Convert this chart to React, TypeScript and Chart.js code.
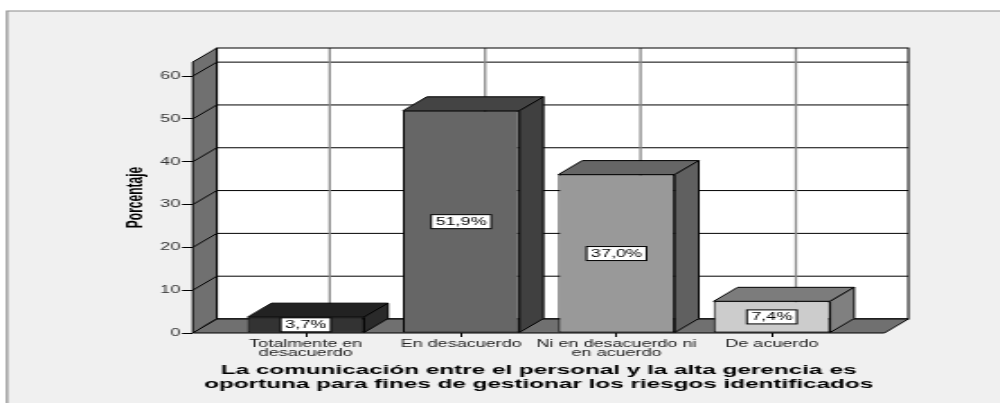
import React, { useEffect, useRef } from 'react';
import { Chart, registerables } from 'chart.js';

Chart.register(...registerables);

// ---- data ----
const categories: string[][] = [
  ['Totalmente en', 'desacuerdo'],
  ['En desacuerdo'],
  ['Ni en desacuerdo ni', 'en acuerdo'],
  ['De acuerdo'],
];
const percentages: number[] = [3.7, 51.9, 37.0, 7.4];
const yTickValues: number[] = [0, 10, 20, 30, 40, 50, 60];
const xTitle: string[] = [
  'La comunicación entre el personal y la alta gerencia es',
  'oportuna para fines de gestionar los riesgos identificados',
];
const yTitle = 'Porcentaje';

// ---- styles ----
const frontColors = ['#333333', '#666666', '#999999', '#cccccc'];
const topColors = ['#222222', '#444444', '#666666', '#7c7c7c'];
const sideColors = ['#2a2a2a', '#404040', '#606060', '#808080'];

const FONT = '"Liberation Sans", Arial, Helvetica, sans-serif';
const W = 556; // internal canvas width, stretched horizontally to 1000px
const H = 403;
const SX = 1000 / W;
const DX = 24 / SX; // depth offset x
const DY = 14; // depth offset y
const FRAME_X = 7 / SX;
const FRAME_Y = 11;
const X_MIN = -0.727;
const X_MAX = 3.724;
const Y_MAX = 63.3;

const fmt = (v: number) => v.toFixed(1).replace('.', ',') + '%';

function poly(ctx: CanvasRenderingContext2D, pts: number[][], fill: string) {
  ctx.beginPath();
  ctx.moveTo(pts[0][0], pts[0][1]);
  for (let i = 1; i < pts.length; i++) ctx.lineTo(pts[i][0], pts[i][1]);
  ctx.closePath();
  ctx.fillStyle = fill;
  ctx.fill();
  ctx.strokeStyle = '#000';
  ctx.lineWidth = 1;
  ctx.stroke();
}

function line(ctx: CanvasRenderingContext2D, x1: number, y1: number, x2: number, y2: number) {
  ctx.beginPath();
  ctx.moveTo(x1, y1);
  ctx.lineTo(x2, y2);
  ctx.stroke();
}

const threeD = {
  id: 'threeD',
  beforeDraw(chart: any) {
    const { ctx, chartArea: a, scales } = chart;
    const x = scales.x;
    const y = scales.y;
    ctx.save();
    ctx.fillStyle = '#ffffff';
    ctx.fillRect(0, 0, chart.width, chart.height);
    ctx.fillStyle = '#f0f0f0';
    ctx.fillRect(FRAME_X, FRAME_Y, chart.width, chart.height);
    ctx.strokeStyle = '#8c8c8c';
    ctx.lineWidth = 1.2;
    ctx.beginPath();
    ctx.moveTo(FRAME_X, chart.height);
    ctx.lineTo(FRAME_X, FRAME_Y);
    ctx.lineTo(chart.width, FRAME_Y);
    ctx.stroke();

    const bl = a.left + DX;
    const bt = a.top - DY;
    const br = a.right + DX;
    const bb = a.bottom - DY;
    ctx.fillStyle = '#ffffff';
    ctx.fillRect(bl, bt, br - bl, bb - bt);
    ctx.strokeStyle = '#000';
    ctx.lineWidth = 1;
    yTickValues.forEach((v) => {
      const py = y.getPixelForValue(v) - DY;
      line(ctx, bl, py, br, py);
    });
    ctx.strokeStyle = '#8a8a8a';
    ctx.lineWidth = 1.3;
    categories.forEach((_, i) => {
      const px = x.getPixelForValue(i) + DX;
      line(ctx, px, bt, px, bb);
    });
    ctx.strokeStyle = '#000';
    ctx.lineWidth = 1;
    ctx.strokeRect(bl, bt, br - bl, bb - bt);

    poly(ctx, [[a.left, a.bottom], [a.left, a.top], [bl, bt], [bl, bb]], '#707070');
    ctx.strokeStyle = '#000';
    ctx.lineWidth = 1;
    yTickValues.forEach((v) => {
      const py = y.getPixelForValue(v);
      line(ctx, a.left, py, bl, py - DY);
    });
    poly(ctx, [[a.left, a.bottom], [a.right, a.bottom], [br, bb], [bl, bb]], '#707070');
    ctx.restore();
  },
  afterDatasetsDraw(chart: any) {
    const { ctx } = chart;
    const meta = chart.getDatasetMeta(0);
    ctx.save();
    meta.data.forEach((bar: any, i: number) => {
      const p = bar.getProps(['x', 'y', 'base', 'width'], true);
      const l = p.x - p.width / 2;
      const r = p.x + p.width / 2;
      const top = p.y;
      const base = p.base;
      poly(ctx, [[l, top], [r, top], [r + DX, top - DY], [l + DX, top - DY]], topColors[i]);
      poly(ctx, [[r, top], [r + DX, top - DY], [r + DX, base - DY], [r, base]], sideColors[i]);
      // value label
      const txt = fmt(percentages[i]);
      ctx.font = `10px ${FONT}`;
      const tw = ctx.measureText(txt).width;
      const bw = tw + 5;
      const bh = 14;
      const cy = (top + base) / 2;
      ctx.fillStyle = '#ffffff';
      ctx.fillRect(p.x - bw / 2, cy - bh / 2, bw, bh);
      ctx.strokeStyle = '#000';
      ctx.lineWidth = 1;
      ctx.strokeRect(p.x - bw / 2, cy - bh / 2, bw, bh);
      ctx.fillStyle = '#000';
      ctx.textAlign = 'center';
      ctx.textBaseline = 'middle';
      ctx.fillText(txt, p.x, cy + 0.5);
    });
    ctx.restore();
  },
};

export default function App() {
  const ref = useRef<HTMLCanvasElement | null>(null);

  useEffect(() => {
    if (!ref.current) return;
    const chart = new Chart(ref.current, {
      type: 'bar',
      data: {
        datasets: [
          {
            data: percentages.map((v, i) => ({ x: i, y: v })),
            backgroundColor: frontColors,
            borderColor: '#000000',
            borderWidth: 1,
            borderSkipped: false,
            barPercentage: 0.75,
            categoryPercentage: 1,
          } as any,
        ],
      },
      options: {
        animation: false,
        responsive: false,
        devicePixelRatio: 1,
        events: [],
        layout: { padding: { left: 64, top: 62, right: W - 491.7, bottom: 0 } },
        plugins: {
          legend: { display: false },
          tooltip: { enabled: false },
          title: { display: false },
        },
        scales: {
          x: {
            type: 'linear',
            offset: false,
            min: X_MIN,
            max: X_MAX,
            afterBuildTicks: (s: any) => {
              s.ticks = categories.map((_, i) => ({ value: i }));
            },
            afterFit: (s: any) => {
              s.height = 70;
            },
            ticks: {
              autoSkip: false,
              maxRotation: 0,
              padding: 3,
              color: '#222222',
              font: { family: FONT, size: 10, lineHeight: 0.9 },
              callback: (v: any) => categories[Math.round(Number(v))] as any,
            },
            grid: {
              offset: false,
              drawOnChartArea: false,
              drawTicks: true,
              tickLength: 4,
              color: '#000000',
              lineWidth: 1,
            },
            border: { display: false },
            title: {
              display: true,
              text: xTitle,
              color: '#000000',
              font: { family: FONT, size: 13.5, weight: 'bold', lineHeight: 1.0 },
              padding: { top: 0, bottom: 12 },
            },
          },
          y: {
            min: 0,
            max: Y_MAX,
            afterBuildTicks: (s: any) => {
              s.ticks = yTickValues.map((v) => ({ value: v }));
            },
            afterFit: (s: any) => {
              s.width = 107.2 - 64;
            },
            ticks: {
              padding: 1,
              color: '#333333',
              font: { family: FONT, size: 10 },
            },
            grid: { drawOnChartArea: false, drawTicks: true, tickLength: 6, color: '#000000', lineWidth: 1 },
            border: { display: false },
            title: {
              display: true,
              text: yTitle,
              color: '#000000',
              font: { family: FONT, size: 12, weight: 'bold', lineHeight: 1.2 },
              padding: { top: 4, bottom: 4 },
            },
          },
        },
      } as any,
      plugins: [threeD as any],
    });
    return () => chart.destroy();
  }, []);

  return (
    <div
      style={{
        position: 'absolute',
        left: 0,
        top: 0,
        width: 1000,
        height: H,
        overflow: 'hidden',
        background: '#ffffff',
      }}
    >
      <canvas
        ref={ref}
        width={W}
        height={H}
        style={{
          display: 'block',
          width: `${W}px`,
          height: `${H}px`,
          transform: `scaleX(${SX})`,
          transformOrigin: '0 0',
        }}
      />
    </div>
  );
}
